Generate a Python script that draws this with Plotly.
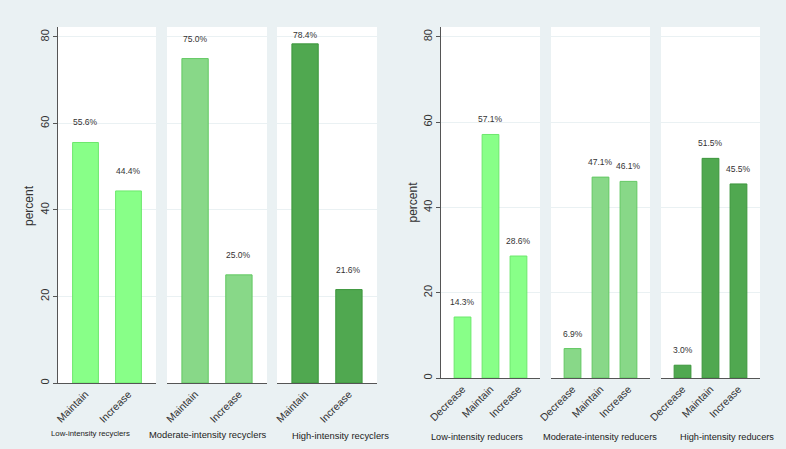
import plotly.graph_objects as go

W, H = 786, 449

# ---- data ----
recycler_groups = ["Low-intensity recyclers", "Moderate-intensity recyclers", "High-intensity recyclers"]
recycler_cats = ["Maintain", "Increase"]
recycler_low = [55.6, 44.4]
recycler_mod = [75.0, 25.0]
recycler_high = [78.4, 21.6]

reducer_groups = ["Low-intensity reducers", "Moderate-intensity reducers", "High-intensity reducers"]
reducer_cats = ["Decrease", "Maintain", "Increase"]
reducer_low = [14.3, 57.1, 28.6]
reducer_mod = [6.9, 47.1, 46.1]
reducer_high = [3.0, 51.5, 45.5]

y_ticks = [0, 20, 40, 60, 80]

fills = ["#88FF88", "#88D888", "#50A850"]
borders = ["#6CE86C", "#62C862", "#3C963C"]

BG = "#EAF1F3"
GRID = "#EAF1F3"
AX = "#555555"
FONT = "Arial, Liberation Sans, sans-serif"

def px_x(a, b):
    return [a / W, b / W]

def px_y(top, bottom):
    return [(H - bottom) / H, (H - top) / H]

left_panels = [(58, 156), (167, 267), (277, 377)]
right_panels = [(441, 540), (551, 650), (661, 760)]
left_y = (27, 383)
right_y = (27, 378)

fig = go.Figure()
layout = dict(
    width=W, height=H,
    margin=dict(l=0, r=0, t=0, b=0, autoexpand=False),
    paper_bgcolor=BG, plot_bgcolor="white",
    showlegend=False,
    font=dict(family=FONT, color="#333333"),
    bargap=0.4,
)
annotations = []

def add_group(panels, yspan, cats, series, yname, xstart, left_group):
    yax = "yaxis" if yname == "y" else "yaxis" + yname[1:]
    ncat = len(cats)
    pad = 0.64 if ncat == 2 else 0.77
    ymax = 82.3
    pxu = (yspan[1] - yspan[0]) / ymax
    for i, ((a, b), vals) in enumerate(zip(panels, series)):
        xn = xstart + i
        xname = "x" if xn == 1 else f"x{xn}"
        xax = "xaxis" if xn == 1 else f"xaxis{xn}"
        fig.add_trace(go.Bar(
            x=cats, y=vals, xaxis=xname, yaxis=yname, width=0.6,
            marker=dict(color=fills[i], line=dict(color=borders[i], width=1)),
            hoverinfo="skip",
        ))
        layout[xax] = dict(
            domain=px_x(a, b), anchor=yname, type="category",
            range=[-pad, ncat - 1 + pad], tickangle=-45, automargin=False,
            showline=True, linecolor=AX, linewidth=1, ticks="",
            showgrid=False, tickfont=dict(size=10.5, color="#333333"),
        )
        off = (20 if left_group else 15) / pxu
        cap = 80.5
        for c, v in zip(cats, vals):
            annotations.append(dict(
                x=c, y=min(v + off, cap), xref=xname, yref=yname,
                text=f"{v:.1f}%", showarrow=False, xanchor="center",
                font=dict(size=8.5, color="#333333"), yanchor="middle",
            ))
    layout[yax] = dict(
        domain=px_y(*yspan), anchor="x" if xstart == 1 else f"x{xstart}",
        range=[0, ymax], tickvals=y_ticks, tickangle=-90, automargin=False,
        ticks="outside", ticklen=4, tickcolor=AX,
        showline=True, linecolor=AX, linewidth=1,
        showgrid=True, gridcolor=GRID, gridwidth=1, zeroline=False,
        tickfont=dict(size=11, color="#333333"),
    )

add_group(left_panels, left_y, recycler_cats, [recycler_low, recycler_mod, recycler_high], "y", 1, True)
add_group(right_panels, right_y, reducer_cats, [reducer_low, reducer_mod, reducer_high], "y2", 4, False)

# axis titles
for xp, (t, b) in [(29, left_y), (412, right_y)]:
    annotations.append(dict(
        x=xp / W, y=(H - (t + b) / 2) / H, xref="paper", yref="paper",
        text="percent", textangle=-90, showarrow=False,
        xanchor="center", yanchor="middle",
        font=dict(size=12, color="#333333"),
    ))

# group titles
title_pos = [
    (recycler_groups[0], 90, 433, 7.8),
    (recycler_groups[1], 208, 434, 9.4),
    (recycler_groups[2], 340, 435, 9.4),
    (reducer_groups[0], 477, 437, 9.2),
    (reducer_groups[1], 600, 437, 9.2),
    (reducer_groups[2], 727, 437, 9.2),
]
for txt, xp, yp, sz in title_pos:
    annotations.append(dict(
        x=xp / W, y=(H - yp) / H, xref="paper", yref="paper",
        text=txt, showarrow=False, xanchor="center", yanchor="middle",
        font=dict(size=sz, color="#222222"),
    ))

layout["annotations"] = annotations
fig.update_layout(**layout)
fig.write_html(
    "out.html",
    config={"displayModeBar": False},
    post_script="document.body.style.margin='0';document.body.style.overflow='hidden';",
)
